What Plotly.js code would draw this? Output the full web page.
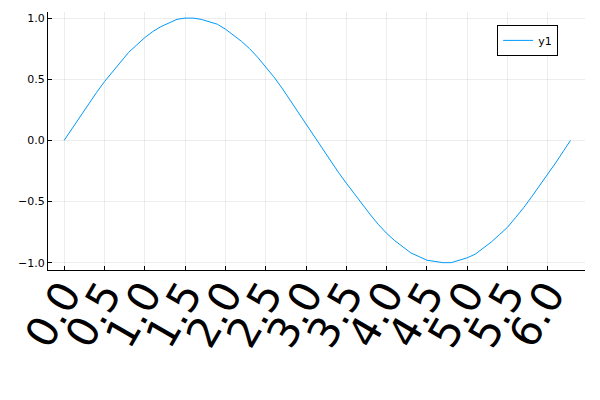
<html><head><script src="https://cdn.plot.ly/plotly-3.0.1.min.js"></script></head><body style="margin:0">
<div id="g" style="width:600px;height:400px"></div>
<script>
const xVals=[0,0.1,0.2,0.3,0.4,0.5,0.6,0.7,0.8,0.9,1.0,1.1,1.2,1.3,1.4,1.5,1.6,1.7,1.8,1.9,2.0,2.1,2.2,2.3,2.4,2.5,2.6,2.7,2.8,2.9,3.0,3.1,3.2,3.3,3.4,3.5,3.6,3.7,3.8,3.9,4.0,4.1,4.2,4.3,4.4,4.5,4.6,4.7,4.8,4.9,5.0,5.1,5.2,5.3,5.4,5.5,5.6,5.7,5.8,5.9,6.0,6.1,6.2,6.28];
const y1=[0,0.10,0.20,0.30,0.39,0.48,0.56,0.64,0.72,0.78,0.84,0.89,0.93,0.96,0.99,1.00,1.00,0.99,0.97,0.95,0.91,0.86,0.81,0.75,0.68,0.60,0.52,0.43,0.33,0.24,0.14,0.04,-0.06,-0.16,-0.26,-0.35,-0.44,-0.53,-0.61,-0.69,-0.76,-0.82,-0.87,-0.92,-0.95,-0.98,-0.99,-1.00,-1.00,-0.98,-0.96,-0.93,-0.88,-0.83,-0.77,-0.71,-0.63,-0.55,-0.46,-0.37,-0.28,-0.18,-0.08,0];
const xTicks=[0,0.5,1,1.5,2,2.5,3,3.5,4,4.5,5,5.5,6];
const xTickLabels=["0.0","0.5","1.0","1.5","2.0","2.5","3.0","3.5","4.0","4.5","5.0","5.5","6.0"];
const yTicks=[-1,-0.5,0,0.5,1];
const yTickLabels=["−1.0","−0.5","0.0","0.5","1.0"];
Plotly.newPlot('g',[{x:xVals,y:y1,mode:'lines',name:'y1',line:{color:'#009af9',width:1}}],{
width:600,height:400,margin:{l:48,r:15,t:12,b:130},
paper_bgcolor:'white',plot_bgcolor:'white',
font:{family:'DejaVu Sans',color:'black'},
xaxis:{range:[-0.2,6.46],tickvals:xTicks,ticktext:xTickLabels,tickangle:-60,tickfont:{size:42},ticklabelstandoff:-18,
showgrid:true,gridcolor:'rgba(0,0,0,0.07)',zeroline:false,showline:true,linecolor:'black',ticks:'inside',ticklen:4,tickcolor:'black'},
yaxis:{range:[-1.06,1.05],tickvals:yTicks,ticktext:yTickLabels,tickfont:{size:11},
showgrid:true,gridcolor:'rgba(0,0,0,0.07)',zeroline:false,showline:true,linecolor:'black',ticks:'inside',ticklen:4,tickcolor:'black'},
showlegend:true,
legend:{x:0.95,y:0.95,xanchor:'right',yanchor:'top',bordercolor:'black',borderwidth:1,font:{size:11}}
},{displayModeBar:false});
</script></body></html>
